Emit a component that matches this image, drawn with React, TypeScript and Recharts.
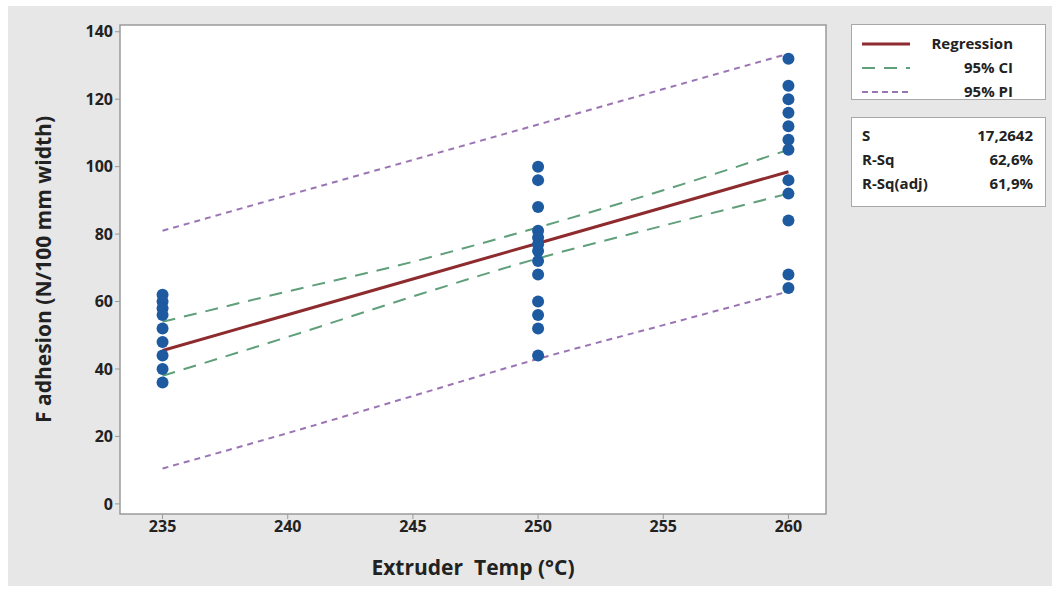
import {
  ComposedChart,
  Line,
  Scatter,
  XAxis,
  YAxis,
  ReferenceArea,
  Label,
} from "recharts";

// observed points
const temps235 = [62, 60, 58, 56, 52, 48, 44, 40, 36];
const temps250 = [100, 96, 88, 81, 79, 77, 75, 72, 68, 60, 56, 52, 44];
const temps260 = [132, 124, 120, 116, 112, 108, 105, 96, 92, 84, 68, 64];

// fitted lines
const fitTemps = [235, 240, 245, 250, 255, 260];
const regression = [45.5, 56.1, 66.7, 77.3, 87.9, 98.5];
const ciUpper = [54, 63, 71.8, 82, 93, 105];
const ciLower = [38, 49.5, 61.5, 72.8, 82.5, 92];
const piUpper = [81, 91.5, 102, 112.5, 123, 133.5];
const piLower = [10.5, 21, 32, 43, 53, 63];

const xTicks = [235, 240, 245, 250, 255, 260];
const yTicks = [0, 20, 40, 60, 80, 100, 120, 140];

const stats = [
  { name: "S", value: "17,2642" },
  { name: "R-Sq", value: "62,6%" },
  { name: "R-Sq(adj)", value: "61,9%" },
];

const points = [
  ...temps235.map((v) => ({ temp: 235, adhesion: v })),
  ...temps250.map((v) => ({ temp: 250, adhesion: v })),
  ...temps260.map((v) => ({ temp: 260, adhesion: v })),
];

const fitRows = fitTemps.map((t, i) => ({
  temp: t,
  reg: regression[i],
  ciU: ciUpper[i],
  ciL: ciLower[i],
  piU: piUpper[i],
  piL: piLower[i],
}));

const FONT = "'Open Sans', 'DejaVu Sans', sans-serif";
const REG = "#8e2b2e";
const CI = "#5f9f7a";
const PI = "#9a74b4";
const DOT = "#1d5a9f";

const Dot = (props: any) => (
  <circle cx={props.cx} cy={props.cy} r={6} fill={DOT} />
);

export default function App() {
  const tickStyle = { fontFamily: FONT, fontSize: 16, fontWeight: 700, fill: "#222" };
  return (
    <div
      style={{
        position: "fixed",
        left: 0,
        top: 0,
        width: 1058,
        height: 590,
        background: "#fff",
      }}
    >
      <div
        style={{
          position: "absolute",
          left: 8,
          top: 6,
          width: 1044,
          height: 580,
          background: "#e7e7e7",
        }}
      />
      <div style={{ position: "absolute", left: 0, top: 0 }}>
        <ComposedChart
          width={1058}
          height={590}
          data={fitRows}
          margin={{ top: 25, right: 232, left: 0, bottom: 0 }}
        >
          <XAxis
            dataKey="temp"
            type="number"
            domain={[233.3, 261.5]}
            ticks={xTicks}
            allowDataOverflow
            axisLine={false}
            tickSize={5}
            tickLine={{ stroke: "#999" }}
            tick={tickStyle}
            height={76}
          >
            <Label
              value={"Extruder\u00a0 Temp (°C)"}
              position="insideBottom"
              offset={15}
              style={{ fontFamily: FONT, fontSize: 21, fontWeight: 700, fill: "#222" }}
            />
          </XAxis>
          <YAxis
            type="number"
            domain={[-3, 142]}
            ticks={yTicks}
            allowDataOverflow
            axisLine={false}
            tickSize={5}
            tickLine={{ stroke: "#999" }}
            tick={tickStyle}
            width={120}
          >
            <Label
              value="F adhesion (N/100 mm width)"
              angle={-90}
              position="insideLeft"
              offset={44}
              style={{ textAnchor: "middle", fontFamily: FONT, fontSize: 21, fontWeight: 700, fill: "#222" }}
            />
          </YAxis>
          <ReferenceArea
            x1={233.3}
            x2={261.5}
            y1={-3}
            y2={142}
            fill="#fff"
            fillOpacity={1}
            stroke="#9a9a9a"
            strokeWidth={1.5}
          />
          <Line
            dataKey="piU"
            type="monotone"
            stroke={PI}
            strokeWidth={2}
            strokeDasharray="6 5"
            dot={false}
            isAnimationActive={false}
          />
          <Line
            dataKey="piL"
            type="monotone"
            stroke={PI}
            strokeWidth={2}
            strokeDasharray="6 5"
            dot={false}
            isAnimationActive={false}
          />
          <Line
            dataKey="ciU"
            type="monotone"
            stroke={CI}
            strokeWidth={2}
            strokeDasharray="13 9"
            dot={false}
            isAnimationActive={false}
          />
          <Line
            dataKey="ciL"
            type="monotone"
            stroke={CI}
            strokeWidth={2}
            strokeDasharray="13 9"
            dot={false}
            isAnimationActive={false}
          />
          <Line
            dataKey="reg"
            type="linear"
            stroke={REG}
            strokeWidth={3}
            dot={false}
            isAnimationActive={false}
          />
          <Scatter
            data={points}
            dataKey="adhesion"
            shape={Dot}
            isAnimationActive={false}
          />
        </ComposedChart>
      </div>

      {/* legend box */}
      <div
        style={{
          position: "absolute",
          left: 851,
          top: 24,
          width: 193,
          height: 74,
          background: "#fff",
          border: "1.5px solid #a8a8a8",
          fontFamily: FONT,
          fontSize: 15,
          fontWeight: 700,
          color: "#222",
        }}
      >
        {[
          { label: "Regression", color: REG, dash: "", w: 3 },
          { label: "95% CI", color: CI, dash: "13 9", w: 2 },
          { label: "95% PI", color: PI, dash: "6 4", w: 2 },
        ].map((e, i) => (
          <div
            key={e.label}
            style={{ position: "absolute", left: 0, top: 8 + i * 24, width: 193, height: 20 }}
          >
            <svg width={50} height={20} style={{ position: "absolute", left: 10, top: 0 }}>
              <line x1={0} y1={11} x2={48} y2={11} stroke={e.color} strokeWidth={e.w} strokeDasharray={e.dash} />
            </svg>
            <span style={{ position: "absolute", right: 32, top: 1, lineHeight: "18px" }}>{e.label}</span>
          </div>
        ))}
      </div>

      {/* stats box */}
      <div
        style={{
          position: "absolute",
          left: 851,
          top: 117,
          width: 193,
          height: 88,
          background: "#fff",
          border: "1.5px solid #a8a8a8",
          fontFamily: FONT,
          fontSize: 15,
          fontWeight: 700,
          color: "#222",
        }}
      >
        {stats.map((s, i) => (
          <div
            key={s.name}
            style={{ position: "absolute", left: 0, top: 7 + i * 24, width: 193, height: 20, lineHeight: "20px" }}
          >
            <span style={{ position: "absolute", left: 10 }}>{s.name}</span>
            <span style={{ position: "absolute", right: 12 }}>{s.value}</span>
          </div>
        ))}
      </div>
    </div>
  );
}
